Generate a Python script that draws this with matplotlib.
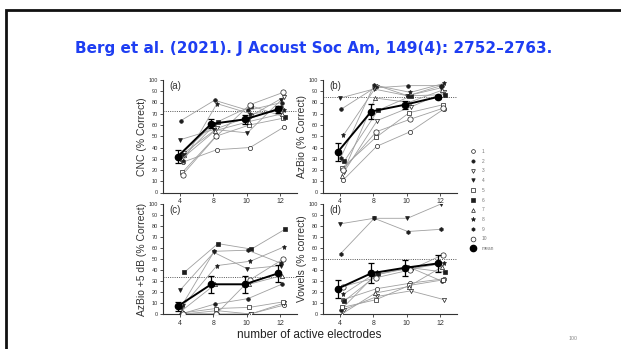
import matplotlib
matplotlib.use("Agg")
import matplotlib.pyplot as plt
from matplotlib.lines import Line2D
from matplotlib.patches import Rectangle
import numpy as np

# ---- data -------------------------------------------------------------
electrodes = ["4", "8", "10", "12"]
subjects = ["1", "2", "3", "4", "5", "6", "7", "8", "9", "10"]

cnc = [
    [27, 38, 40, 58],
    [64, 82, 73, 80],
    [35, 57, 68, 85],
    [47, 56, 53, 82],
    [18, 50, 60, 66],
    [33, 63, 77, 67],
    [30, 55, 63, 70],
    [28, 79, 70, 73],
    [34, 61, 65, 76],
    [16, 50, 78, 89],
]
cnc_mean = [32, 61, 65, 74]
cnc_err = [5.5, 4, 4, 3]
cnc_ref = 72.5

azbio = [
    [11, 41, 54, 74],
    [74, 93, 95, 95],
    [18, 64, 76, 89],
    [84, 92, 86, 93],
    [22, 49, 71, 78],
    [28, 73, 86, 87],
    [15, 84, 80, 91],
    [51, 95, 89, 97],
    [31, 96, 86, 95],
    [20, 54, 65, 75],
]
azbio_mean = [36, 72, 78, 85]
azbio_err = [8, 6.5, 3.5, 2]
azbio_ref = 84.5

azbio5 = [
    [0, 0, 0, 8],
    [0, 9, 14, 27],
    [0, 3, 0, 10],
    [22, 56, 41, 44],
    [1, 5, 6, 11],
    [38, 64, 59, 77],
    [3, 27, 27, 35],
    [8, 44, 48, 61],
    [6, 57, 58, 46],
    [0, 0, 31, 50],
]
azbio5_mean = [7, 27, 27, 37]
azbio5_err = [4, 8, 7.5, 7.5]
azbio5_ref = 34

vowels = [
    [13, 23, 28, 32],
    [4, 35, 43, 30],
    [4, 16, 21, 13],
    [82, 87, 87, 100],
    [6, 13, 26, 31],
    [12, 36, 42, 38],
    [0, 19, 25, 43],
    [18, 38, 41, 46],
    [55, 87, 75, 77],
    [25, 33, 40, 54],
]
vowels_mean = [23, 37, 42, 46]
vowels_err = [8, 9, 7.5, 8]
vowels_ref = 50

# ---- styling ----------------------------------------------------------
plt.rcParams["font.family"] = ["Liberation Sans", "DejaVu Sans"]

markers = ["o", "o", "v", "v", "s", "s", "^", "*", "h", "o"]
filled = [False, True, False, True, False, True, False, True, True, False]
msizes = [3.0, 2.6, 3.0, 2.8, 2.8, 2.8, 3.0, 3.6, 2.8, 3.8]
jitter = [0.10, 0.04, 0.12, 0.02, 0.08, 0.14, 0.06, 0.11, 0.03, 0.09]
mark_col = "#1e1e1e"
line_col = "#a0a0a0"

fig = plt.figure(figsize=(6.21, 3.49), dpi=100)
fig.patch.set_facecolor("white")

W, H = 621.0, 349.0


def box(x0, y_top, x1, y_bot):
    return [x0 / W, 1 - y_bot / H, (x1 - x0) / W, (y_bot - y_top) / H]


panels = [
    ("(a)", "CNC (% Correct)", cnc, cnc_mean, cnc_err, cnc_ref, box(163, 80, 297, 192.5)),
    ("(b)", "AzBio (% Correct)", azbio, azbio_mean, azbio_err, azbio_ref, box(323, 80, 457, 192.5)),
    ("(c)", "AzBio +5 dB (% Correct)", azbio5, azbio5_mean, azbio5_err, azbio5_ref, box(163, 204, 297, 314)),
    ("(d)", "Vowels (% correct)", vowels, vowels_mean, vowels_err, vowels_ref, box(323, 204, 457, 314)),
]

xpos = np.arange(len(electrodes))

for tag, ylabel, series, mean, err, ref, rect in panels:
    ax = fig.add_axes(rect)
    ax.axhline(ref, color="#555555", lw=0.7, ls=(0, (1, 1.3)), zorder=1)
    for i, vals in enumerate(series):
        ax.plot(
            xpos + jitter[i], vals,
            color=line_col, lw=0.6,
            marker=markers[i], ms=msizes[i],
            mfc=mark_col if filled[i] else "white",
            mec=mark_col, mew=0.5, zorder=3,
        )
    ax.errorbar(
        xpos - 0.06, mean, yerr=err,
        color="black", lw=1.4, marker="o", ms=4.5,
        capsize=2.4, capthick=0.9, elinewidth=0.9, zorder=5,
    )
    ax.set_xlim(-0.5, 3.5)
    ax.set_ylim(0, 100)
    ax.set_xticks(xpos)
    ax.set_xticklabels(electrodes)
    ax.set_yticks(np.arange(0, 101, 10))
    ax.tick_params(axis="x", labelsize=5, length=2, width=0.6, pad=2, colors="#333333")
    ax.tick_params(axis="y", labelsize=4, length=2.5, width=0.6, pad=1, colors="#333333")
    for side in ("top", "right"):
        ax.spines[side].set_visible(False)
    for side in ("left", "bottom"):
        ax.spines[side].set_color("#333333")
        ax.spines[side].set_linewidth(0.8)
    ax.set_ylabel(ylabel, fontsize=7.5, color="#333333", labelpad=1.5)
    ax.text(0.05, 0.995, tag, transform=ax.transAxes, fontsize=7,
            va="top", ha="left", color="#333333")
    ax.set_facecolor("none")

# legend of subjects
handles = []
for i in range(len(subjects)):
    handles.append(Line2D([], [], ls="none", marker=markers[i], ms=msizes[i] * 0.9,
                          mfc=mark_col if filled[i] else "white", mec=mark_col, mew=0.5))
handles.append(Line2D([], [], ls="none", marker="o", ms=4.5, color="black"))
fig.legend(handles, subjects + ["mean"], loc="upper left",
           bbox_to_anchor=(471 / W, 1 - 149 / H), frameon=False,
           fontsize=3.5, handlelength=0.8, handletextpad=1.4, labelspacing=0.97,
           borderpad=0, borderaxespad=0, labelcolor="#777777")

# slide decoration
fig.text(314 / W, 1 - 48 / H, "Berg et al. (2021). J Acoust Soc Am, 149(4): 2752\u20132763.",
         ha="center", va="center", fontsize=11, fontweight="bold",
         color="#1e3ef2", family=["DejaVu Sans"])
fig.text(309 / W, 1 - 335 / H, "number of active electrodes", ha="center", va="center",
         fontsize=8.5, color="#222222")
fig.text(573 / W, 1 - 338 / H, "100", ha="center", va="center", fontsize=3.8, color="#888888")
fig.add_artist(Rectangle((6 / W, -0.2), 2.0, (1 - 10 / H) + 0.2, transform=fig.transFigure,
                         fill=False, lw=2, ec="#111111", clip_on=False))

fig.savefig("out.png", dpi=100, facecolor="white")
